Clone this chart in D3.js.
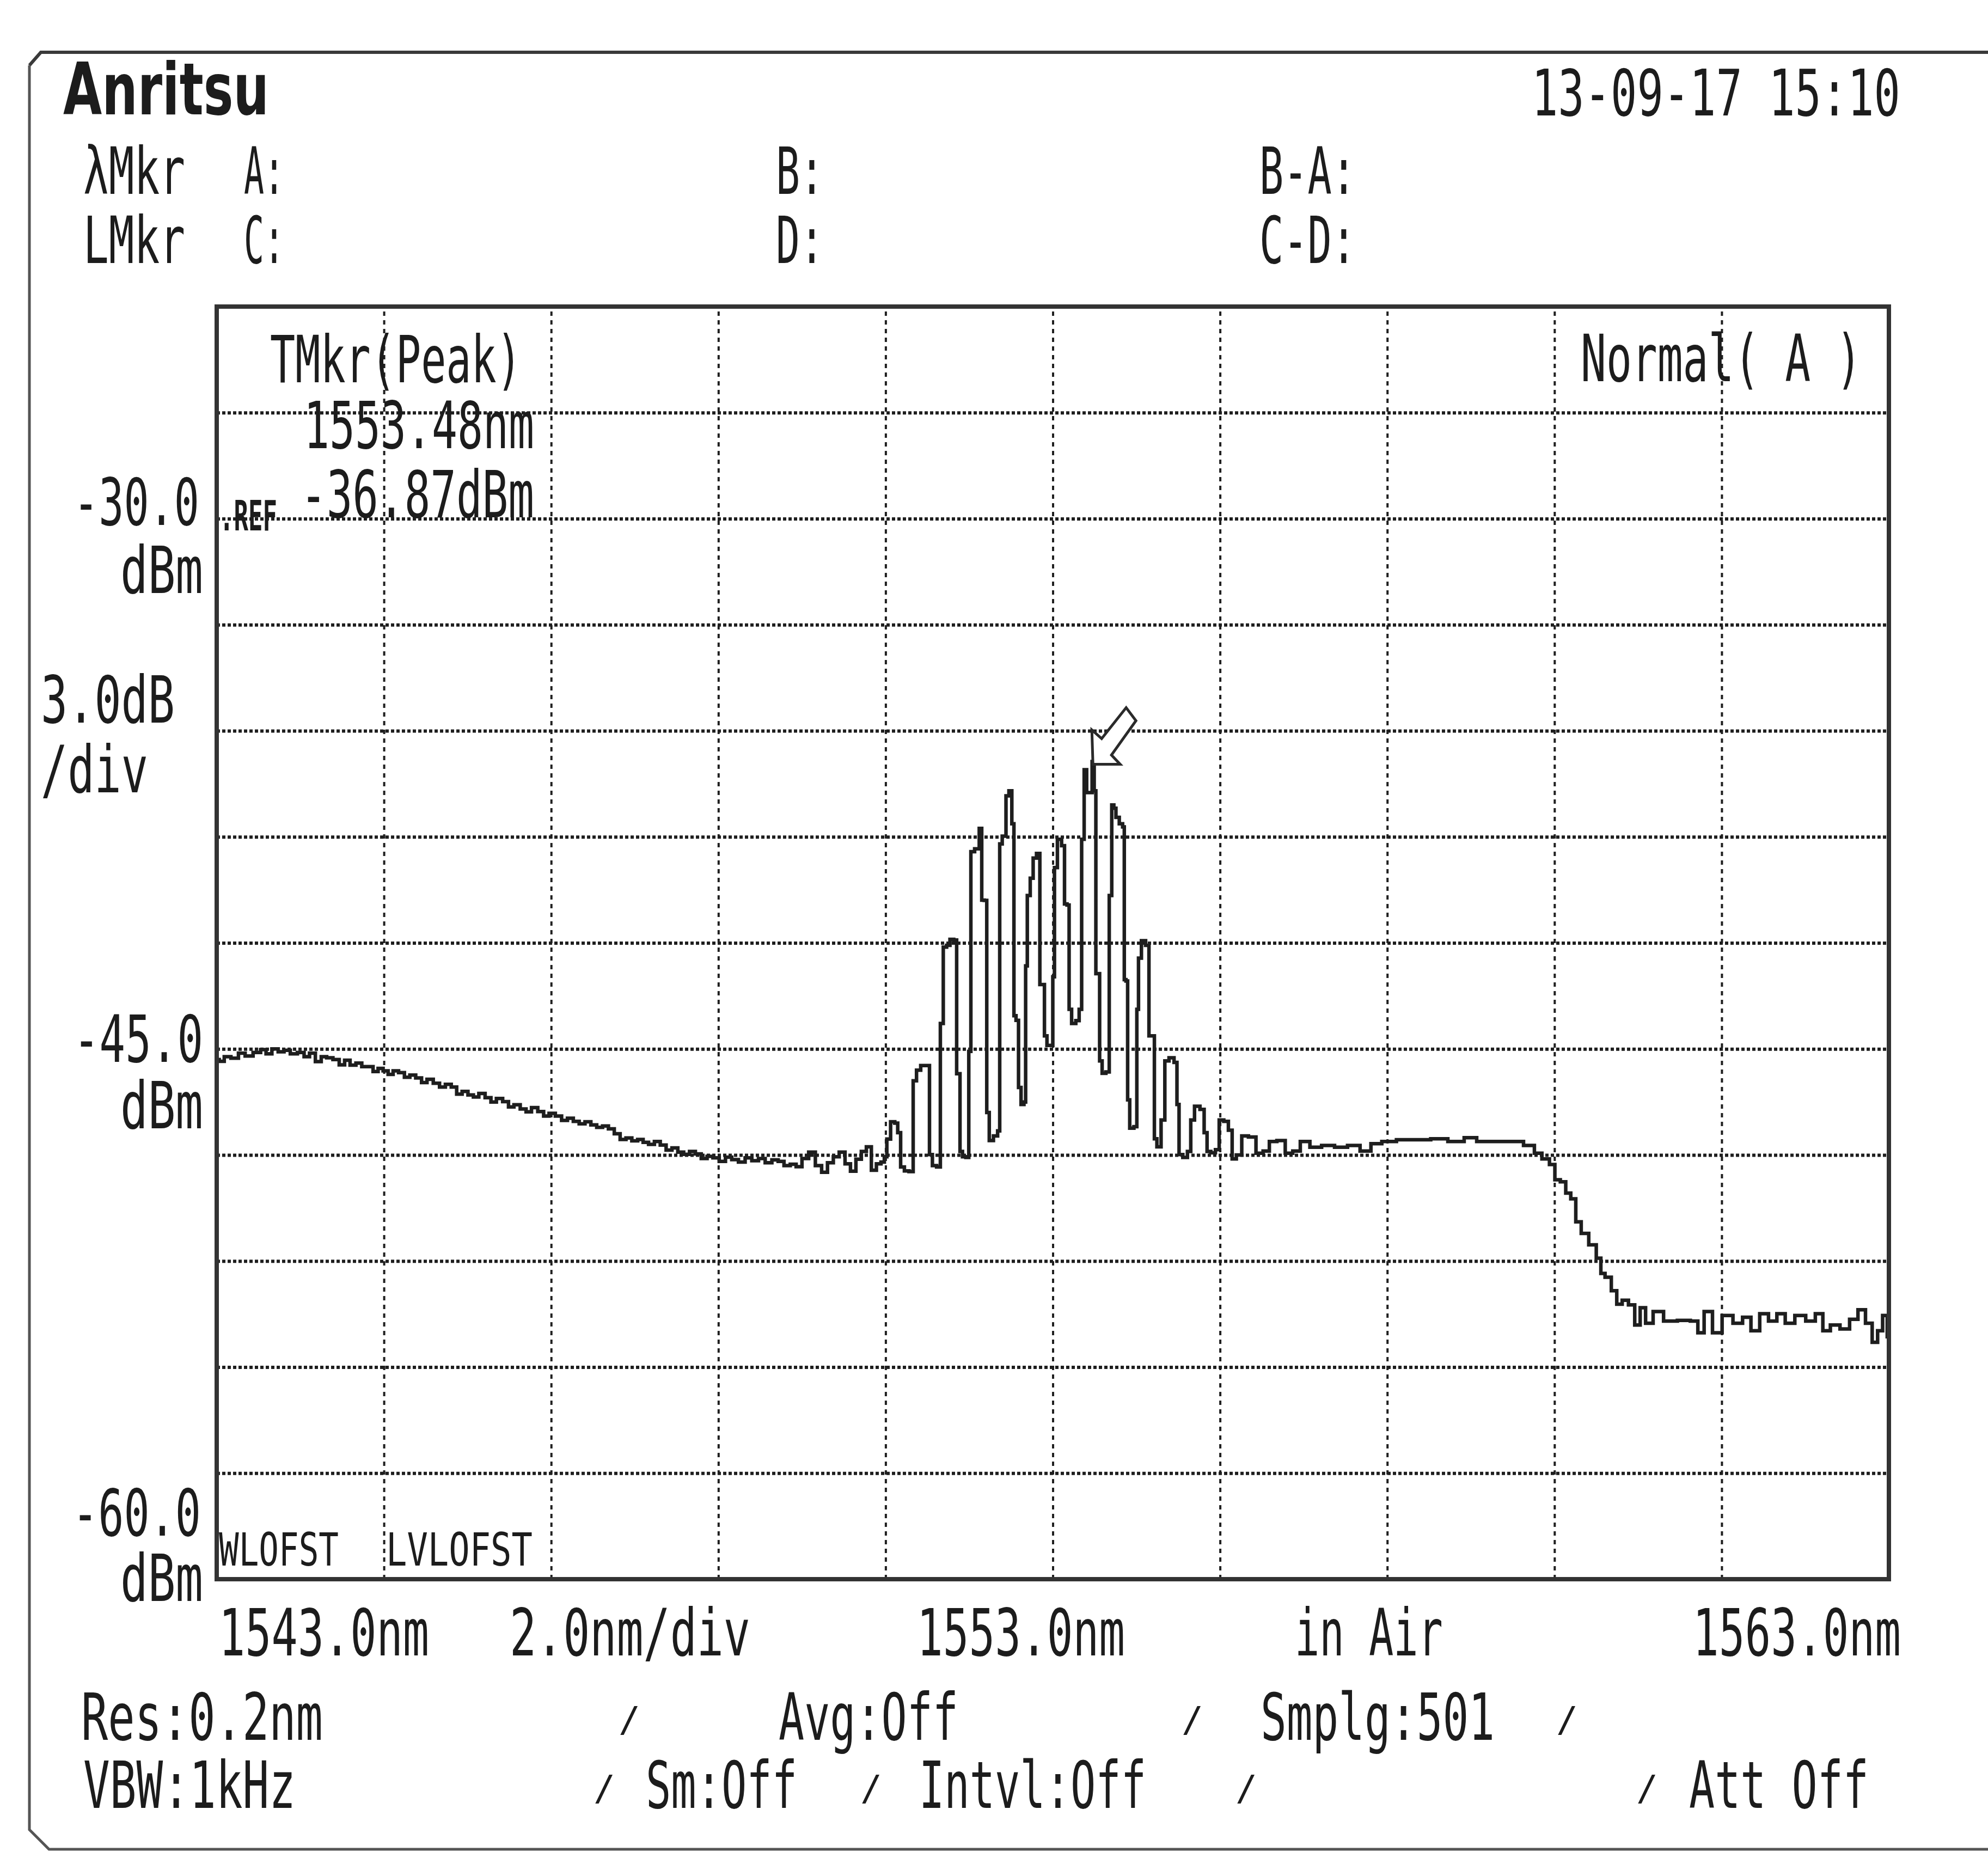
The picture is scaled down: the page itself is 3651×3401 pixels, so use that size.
<!DOCTYPE html>
<html><head><meta charset="utf-8">
<script src="https://cdn.jsdelivr.net/npm/d3@7"></script>
<style>
html,body{margin:0;padding:0;background:#fff;}
svg{display:block;}
text{font-family:"DejaVu Sans Mono",monospace;fill:#1c1c1c;}
</style>
</head><body>
<svg id="c" width="3651" height="3401"></svg>
<script>
// ---------------- DATA ----------------
const wavelengths = [
1543.00,1543.06,1543.12,1543.22,1543.30,1543.38,1543.49,1543.56,1543.62,1543.70,1543.77,1543.84,1543.92,
1544.01,1544.08,1544.14,1544.22,1544.28,1544.35,1544.43,1544.50,1544.56,1544.63,1544.70,1544.77,1544.84,1544.90,1544.96,
1545.02,1545.08,1545.14,1545.21,1545.28,1545.34,1545.42,1545.48,1545.55,1545.63,1545.70,1545.77,1545.84,1545.90,1545.97,
1546.04,1546.10,1546.17,1546.25,1546.31,1546.38,1546.46,1546.52,1546.59,1546.67,1546.73,1546.80,1546.88,1546.94,
1547.01,1547.09,1547.16,1547.23,1547.30,1547.37,1547.44,1547.51,1547.58,1547.65,1547.72,1547.79,1547.86,1547.93,
1548.00,1548.07,1548.13,1548.20,1548.27,1548.34,1548.41,1548.48,1548.55,1548.62,1548.69,1548.76,1548.83,1548.90,1548.97,
1549.05,1549.12,1549.20,1549.28,1549.36,1549.44,1549.52,1549.60,1549.68,1549.75,1549.82,1549.90,1549.96,
1550.04,1550.12,1550.20,1550.27,1550.34,1550.41,1550.48,1550.55,1550.61,1550.68,1550.74,1550.80,1550.86,1550.92,1550.97,
1551.00,1551.03,1551.09,1551.13,1551.16,1551.20,1551.25,1551.31,1551.35,1551.39,1551.45,1551.51,1551.54,1551.58,1551.64,
1551.67,1551.71,1551.75,1551.79,1551.84,1551.86,1551.88,1551.90,1551.94,1551.98,
1552.01,1552.03,1552.10,1552.14,1552.16,1552.20,1552.22,1552.26,1552.32,1552.36,1552.37,1552.42,1552.46,1552.49,
1552.53,1552.54,1552.58,1552.60,1552.64,1552.67,1552.68,1552.71,1552.75,1552.78,1552.83,1552.86,1552.89,1552.91,1552.95,1552.99,
1553.01,1553.03,1553.08,1553.13,1553.15,1553.19,1553.20,1553.25,1553.30,1553.33,1553.36,1553.39,1553.42,1553.46,1553.48,
1553.51,1553.52,1553.55,1553.57,1553.61,1553.66,1553.69,1553.72,1553.74,1553.77,1553.82,1553.85,1553.86,1553.89,1553.90,1553.94,
1554.00,1554.01,1554.04,1554.08,1554.14,1554.16,1554.21,1554.22,1554.27,1554.32,1554.36,1554.42,1554.48,1554.49,1554.53,1554.58,
1554.64,1554.66,1554.73,1554.79,1554.83,1554.86,1554.92,1554.97,
1555.01,1555.08,1555.12,1555.17,1555.22,1555.30,1555.38,1555.48,1555.55,1555.63,1555.73,1555.83,1555.91,
1556.01,1556.14,1556.29,1556.45,1556.60,1556.75,1556.86,
1557.01,1557.21,1557.42,1557.62,1557.83,1558.01,1558.13,1558.34,1558.54,1558.72,1558.80,1558.90,1558.98,
1559.03,1559.11,1559.16,1559.23,1559.28,1559.36,1559.46,1559.54,1559.57,1559.64,1559.72,1559.77,1559.85,1559.92,
1560.00,1560.05,1560.13,1560.23,1560.38,1560.56,1560.69,1560.74,1560.84,1560.94,
1561.07,1561.20,1561.30,1561.40,1561.51,1561.61,1561.71,1561.81,1561.94,
1562.07,1562.17,1562.25,1562.35,1562.48,1562.58,1562.68,1562.76,1562.84,1562.89,1562.96,1563.00
];
const levels = [
-45.30,-45.35,-45.22,-45.26,-45.12,-45.20,-45.10,-45.02,-45.14,-45.00,-45.08,-45.04,-45.14,
-45.10,-45.22,-45.12,-45.36,-45.22,-45.25,-45.30,-45.45,-45.32,-45.46,-45.40,-45.50,-45.50,-45.64,-45.55,
-45.62,-45.72,-45.62,-45.67,-45.80,-45.74,-45.82,-45.95,-45.86,-45.97,-46.08,-46.00,-46.08,-46.28,-46.20,
-46.30,-46.36,-46.26,-46.38,-46.50,-46.40,-46.49,-46.64,-46.58,-46.70,-46.78,-46.66,-46.77,-46.90,
-46.82,-46.90,-47.02,-46.96,-47.05,-47.12,-47.06,-47.15,-47.22,-47.18,-47.26,-47.40,-47.56,-47.52,
-47.60,-47.56,-47.64,-47.70,-47.62,-47.72,-47.86,-47.80,-47.92,-47.98,-47.90,-47.97,-48.10,-48.04,-48.08,
-48.18,-48.06,-48.13,-48.20,-48.08,-48.16,-48.10,-48.22,-48.14,-48.18,-48.30,-48.26,-48.33,
-48.10,-47.92,-48.30,-48.49,-48.22,-48.05,-47.92,-48.25,-48.46,-48.12,-47.90,-47.77,-48.43,-48.25,-48.20,
-48.05,-47.55,-47.06,-47.10,-47.37,-48.34,-48.45,-48.47,-45.90,-45.60,-45.47,-45.47,-47.99,-48.30,-48.34,
-44.28,-42.12,-42.07,-41.90,-41.92,-45.70,-45.70,-47.90,-48.05,-48.07,
-45.07,-39.42,-39.34,-38.76,-40.79,-40.80,-46.80,-47.59,-47.46,-47.32,-39.20,-38.98,-37.84,-37.70,
-38.63,-44.06,-44.19,-46.09,-46.57,-46.50,-42.65,-40.66,-40.17,-39.60,-39.47,-43.18,-43.18,-44.63,-44.90,-44.90,
-42.96,-39.87,-39.07,-39.25,-40.90,-40.93,-43.88,-44.28,-44.20,-43.88,-39.07,-37.10,-37.75,-37.75,-36.87,
-37.70,-42.87,-42.87,-45.34,-45.69,-45.65,-40.66,-38.10,-38.19,-38.45,-38.63,-38.72,-43.04,-43.08,-46.44,-47.24,
-47.20,-43.88,-42.43,-41.94,-42.07,-44.63,-44.63,-47.54,-47.77,-47.01,-45.34,-45.25,-45.38,-46.57,-47.99,-48.07,
-47.90,-47.01,-46.62,-46.71,-47.37,-47.90,-47.94,-47.85,
-47.01,-47.05,-47.30,-48.11,-48.00,-47.46,-47.49,-47.95,-47.89,-47.62,-47.59,-47.95,-47.89,
-47.62,-47.78,-47.73,-47.78,-47.73,-47.89,-47.68,
-47.62,-47.57,-47.57,-47.54,-47.62,-47.51,-47.62,-47.62,-47.62,-47.73,-47.95,-48.11,-48.27,
-48.70,-48.76,-49.08,-49.24,-49.89,-50.22,-50.54,-50.92,-51.35,-51.46,-51.84,-52.22,-52.11,-52.24,
-52.81,-52.32,-52.76,-52.43,-52.70,-52.68,-52.70,-53.03,-52.43,-53.03,
-52.54,-52.76,-52.59,-52.97,-52.49,-52.70,-52.49,-52.76,-52.54,
-52.70,-52.49,-52.97,-52.81,-52.92,-52.65,-52.38,-52.76,-53.30,-52.97,-52.54,-53.14
];
const xDomain = [1543.0, 1563.0];          // nm
const yDomain = [-60.0, -24.0];            // dBm (REF -30, 3 dB/div)
const xGridTicks = [1545,1547,1549,1551,1553,1555,1557,1559,1561];
const yGridTicks = [-57,-54,-51,-48,-45,-42,-39,-36,-33,-30,-27];
const yTickValues = [-30, -45, -60];
const yTickLabels = ["-30.0", "-45.0", "-60.0"];
const xTickValues = [1543, 1553, 1563];
const xTickLabels = ["1543.0nm", "1553.0nm", "1563.0nm"];
const peakWavelength = 1553.48;
const peakLevel = -36.87;

// ---------------- LAYOUT ----------------
const svg = d3.select("#c");
const x = d3.scaleLinear().domain(xDomain).range([398, 3469]);
const y = d3.scaleLinear().domain(yDomain).range([2900, 563]);
const W = x(xDomain[1]) - x(xDomain[0]);
const H = y(yDomain[0]) - y(yDomain[1]);

// text condensed horizontally to the instrument's narrow font width
function txt(t, tx, ty, size, len, opt) {
  opt = opt || {};
  const e = svg.append("text")
    .attr("x", 0).attr("y", 0)
    .attr("font-size", size)
    .attr("font-weight", opt.weight || "normal")
    .text(t);
  if (opt.family) e.style("font-family", opt.family);
  const w = e.node().getComputedTextLength() || len;
  const sx = len ? len / w : 1;
  e.attr("transform", `translate(${tx},${ty}) scale(${sx},1)`);
  return e;
}

// outer instrument frame
svg.append("path")
  .attr("d", "M54,120 L75,96 L3651,96")
  .attr("fill", "none").attr("stroke", "#3a3a3a").attr("stroke-width", 6);
svg.append("path")
  .attr("d", "M54,120 L54,3360 L90,3396 L3651,3396")
  .attr("fill", "none").attr("stroke", "#555").attr("stroke-width", 5);

// grid (via axes)
svg.append("g")
  .attr("transform", `translate(0,${y(yDomain[0])})`)
  .call(d3.axisBottom(x).tickValues(xGridTicks).tickSize(-H).tickFormat(""))
  .call(g => {
    g.select(".domain").remove();
    g.selectAll(".tick line").attr("stroke", "#202020").attr("stroke-width", 4).attr("stroke-dasharray", "8 8");
  });
svg.append("g")
  .attr("transform", `translate(${x(xDomain[0])},0)`)
  .call(d3.axisLeft(y).tickValues(yGridTicks).tickSize(-W).tickFormat(""))
  .call(g => {
    g.select(".domain").remove();
    g.selectAll(".tick line").attr("stroke", "#1e1e1e").attr("stroke-width", 6).attr("stroke-dasharray", "6 4");
  });

// trace (sample-and-hold look of the OSA display)
const pts = wavelengths.map((w, i) => [w, levels[i]]);
svg.append("path")
  .datum(pts)
  .attr("fill", "none")
  .attr("stroke", "#1e1e1e")
  .attr("stroke-width", 6.5)
  .attr("stroke-linejoin", "miter")
  .attr("d", d3.line().curve(d3.curveStep).x(d => x(d[0])).y(d => y(d[1])));

// peak marker arrow (outline), tip at peak
{
  const tx = x(peakWavelength), ty = y(peakLevel) + 5;
  const shape = [[0,0],[-2,-63],[16,-47],[61,-104],[79,-80],[34,-17],[50,0]];
  svg.append("polygon")
    .attr("points", shape.map(p => [tx + p[0], ty + p[1]].join(",")).join(" "))
    .attr("fill", "#fff").attr("stroke", "#2a2a2a").attr("stroke-width", 5)
    .attr("stroke-linejoin", "miter");
}

// plot frame
svg.append("rect")
  .attr("x", x(xDomain[0])).attr("y", y(yDomain[1]))
  .attr("width", W).attr("height", H)
  .attr("fill", "none").attr("stroke", "#333").attr("stroke-width", 8);

// ---------------- TEXT ----------------
txt("Anritsu", 116, 210, 132, 378, {weight: "bold", family: "'DejaVu Sans', sans-serif"});
txt("13-09-17 15:10", 2813, 212, 118, 677);
txt("λMkr", 153, 356, 120, 187);
txt("A:", 448, 356, 120, 74);
txt("B:", 1425, 356, 120, 88);
txt("B-A:", 2313, 356, 120, 177);
txt("LMkr", 153, 483, 120, 187);
txt("C:", 448, 483, 120, 74);
txt("D:", 1425, 483, 120, 88);
txt("C-D:", 2313, 483, 120, 177);

// in-plot annotations
txt("TMkr(Peak)", 496, 702, 120, 462);
txt(peakWavelength.toFixed(2) + "nm", 558, 823, 120, 423);
txt(peakLevel.toFixed(2) + "dBm", 552, 950, 120, 429);
txt(".REF", 403, 974, 76, 106, {weight: "bold"});
txt("Normal( A )", 2903, 700, 120, 516);
txt("WLOFST", 402, 2875, 84, 220);
txt("LVLOFST", 709, 2875, 84, 269);

// y-axis labels
const yLabelLayout = [
  {dy: 11, x: 135, len: 231, unitDy: 136},
  {dy: 24, x: 135, len: 238, unitDy: 146},
  {dy: -80, x: 133, len: 236, unitDy: 40}
];
yTickValues.forEach((v, i) => {
  const L = yLabelLayout[i];
  txt(yTickLabels[i], L.x, y(v) + L.dy, 120, L.len);
  txt("dBm", 221, y(v) + L.unitDy, 120, 152);
});
txt("3.0dB", 75, 1327, 120, 246);
txt("/div", 75, 1455, 120, 197);

// x-axis labels
const xLabelLayout = [{x: 402, len: 386}, {x: 1684, len: 382}, {x: 3109, len: 382}];
xTickValues.forEach((v, i) => {
  txt(xTickLabels[i], xLabelLayout[i].x, 3040, 120, xLabelLayout[i].len);
});
txt("2.0nm/div", 936, 3040, 120, 442);
txt("in Air", 2378, 3040, 120, 272);

// status rows
txt("Res:0.2nm", 149, 3195, 120, 444);
txt("Avg:Off", 1430, 3195, 120, 330);
txt("Smplg:501", 2315, 3195, 120, 430);
txt("VBW:1kHz", 153, 3320, 120, 390);
txt("Sm:Off", 1186, 3320, 120, 278);
txt("Intvl:Off", 1688, 3320, 120, 417);
txt("Att Off", 3102, 3320, 120, 330);
[[1136,3180],[2170,3180],[2858,3180],[1090,3306],[1580,3306],[2269,3306],[3005,3306]].forEach(p => {
  txt("/", p[0], p[1], 64, 40);
});
</script>
</body></html>
